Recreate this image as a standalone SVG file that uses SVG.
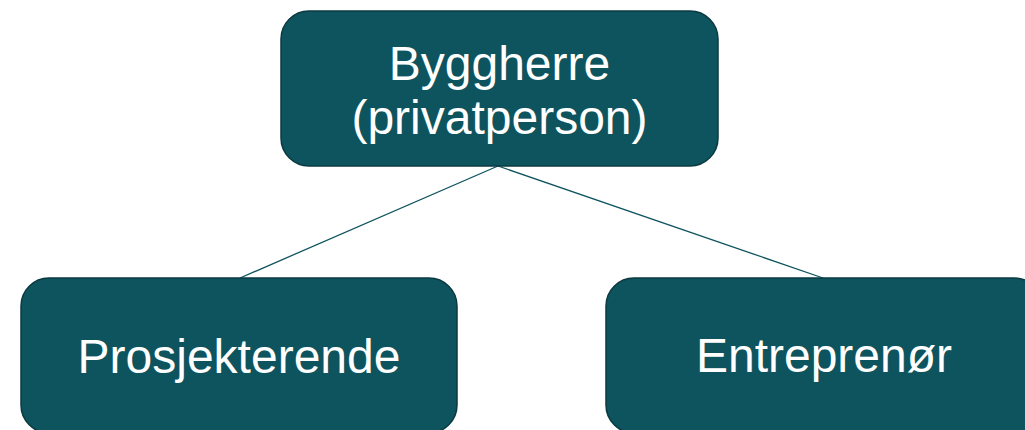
<svg xmlns="http://www.w3.org/2000/svg" width="1025" height="430" viewBox="0 0 1025 430">
<style>
.box{fill:#0E545E;stroke:#0A3A40;stroke-width:1.5}
.lbl{fill:#FFFFFF;font-family:"Liberation Sans",Arial,sans-serif;font-size:48px;text-anchor:middle}
.conn{stroke:#0E545E;stroke-width:1.3;fill:none}
</style>
<rect width="1025" height="430" fill="#FFFFFF"/>
<g id="connectors">
<line class="conn" x1="498" y1="166" x2="240" y2="278"/>
<line class="conn" x1="498" y1="166" x2="823" y2="278"/>
</g>
<g id="node-byggherre">
<rect class="box" x="281" y="11" width="437" height="155" rx="28" ry="28"/>
<text class="lbl" x="499.5" y="80">Byggherre</text>
<text class="lbl" x="499.5" y="134">(privatperson)</text>
</g>
<g id="node-prosjekterende">
<rect class="box" x="21" y="278" width="436" height="155" rx="28" ry="28"/>
<text class="lbl" x="239" y="373">Prosjekterende</text>
</g>
<g id="node-entreprenor">
<rect class="box" x="606" y="278" width="436" height="155" rx="28" ry="28"/>
<text class="lbl" x="824" y="372">Entreprenør</text>
</g>
</svg>
